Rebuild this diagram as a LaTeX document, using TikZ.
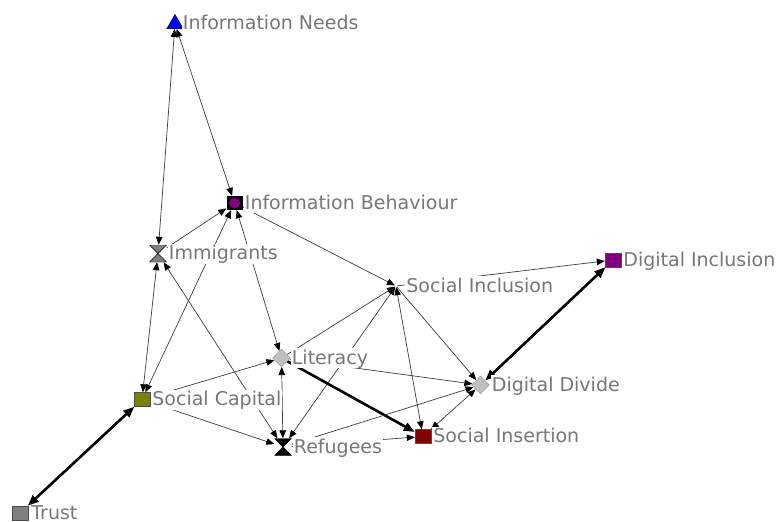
\documentclass[tikz,border=0pt]{standalone}
\usepackage{fontspec}
\usepackage{tikz}
\usetikzlibrary{arrows.meta,shapes.geometric,positioning,backgrounds}
\newfontfamily\labelfont{DejaVu Sans}
\definecolor{netpurple}{RGB}{128,0,128}
\definecolor{netolive}{RGB}{128,128,0}
\definecolor{netred}{RGB}{128,0,0}
\definecolor{netgray}{RGB}{128,128,128}
\definecolor{netsilver}{RGB}{192,192,192}
\definecolor{netblue}{RGB}{0,0,255}
\definecolor{labelgray}{RGB}{118,118,124}
\definecolor{linegray}{RGB}{60,60,60}

\begin{document}
\begin{tikzpicture}[
    x=1pt, y=-1pt,
    lbl/.style={text=labelgray, fill=white, inner sep=1pt, text height=15pt, text depth=3pt, font=\labelfont\fontsize{19}{21}\selectfont},
    sqnode/.style={rectangle, draw=black!70, fill=#1, minimum width=16pt, minimum height=14pt, inner sep=0pt},
    trinode/.style={regular polygon, regular polygon sides=3, draw=black, fill=netblue, minimum size=19pt, inner sep=0pt},
    dianode/.style={diamond, draw=black!45, fill=netsilver, minimum size=18pt, inner sep=0pt},
    hournode/.style={rectangle, minimum width=17pt, minimum height=17pt, inner sep=0pt, path picture={
        \filldraw[fill=#1, draw=black] (path picture bounding box.north west) -- (path picture bounding box.north east)
          -- (path picture bounding box.south west) -- (path picture bounding box.south east) -- cycle;}},
    ibnode/.style={rectangle, fill=black, minimum width=16pt, minimum height=14pt, inner sep=0pt, path picture={
        \fill[netpurple] (path picture bounding box.center) circle (5.5pt);}},
    dotnode/.style={circle, minimum size=2pt, inner sep=0pt},
    arrow/.style={-{Triangle[length=8pt,width=6.5pt,color=black]}, line width=0.7pt, draw=linegray},
    twoway/.style={arrow, {Triangle[length=8pt,width=6.5pt,color=black]}-{Triangle[length=8pt,width=6.5pt,color=black]}},
    heavyarrow/.style={-{Triangle[length=11pt,width=8.5pt]}, line width=2.6pt, draw=black},
    heavytwoway/.style={heavyarrow, {Triangle[length=11pt,width=8.5pt]}-{Triangle[length=11pt,width=8.5pt]}}
]
\useasboundingbox (0,0) rectangle (780,522);

% Nodes
\node[trinode] (needs) at (175,24) {};
\node[ibnode] (behav) at (234.5,203) {};
\node[hournode=netgray] (immig) at (158,253.5) {};
\node[dotnode] (socincl) at (396,286) {};
\node[sqnode=netpurple] (diginc) at (613,260) {};
\node[dianode] (lit) at (281.5,358) {};
\node[sqnode=netolive] (soccap) at (142,399.5) {};
\node[dianode] (digdiv) at (480.5,385) {};
\node[sqnode=netred] (socins) at (423,436.5) {};
\node[hournode=black] (refug) at (283,447) {};
\node[sqnode=netgray] (trust) at (20,513) {};

% Labels
\node[lbl, right=1pt of needs] (needs-l) {Information Needs};
\node[lbl, right=1pt of behav] (behav-l) {Information Behaviour};
\node[lbl, right=1pt of immig] (immig-l) {Immigrants};
\node[lbl, right=8pt of socincl] (socincl-l) {Social Inclusion};
\node[lbl, right=1pt of diginc] (diginc-l) {Digital Inclusion};
\node[lbl, right=0pt of lit] (lit-l) {Literacy};
\node[lbl, right=1pt of soccap] (soccap-l) {Social Capital};
\node[lbl, right=1pt of digdiv] (digdiv-l) {Digital Divide};
\node[lbl, right=1pt of socins] (socins-l) {Social Insertion};
\node[lbl, right=1pt of refug] (refug-l) {Refugees};
\node[lbl, text height=13pt, text depth=1pt, right=2pt of trust] (trust-l) {Trust};

% Connections
\begin{scope}[on background layer]
\draw[twoway] (needs) -- (immig);
\draw[twoway] (needs) -- (behav);
\draw[arrow] (immig) -- (behav);
\draw[twoway] (soccap) -- (behav);
\draw[twoway] (lit) -- (behav);
\draw[twoway] (immig) -- (soccap);
\draw[twoway] (immig) -- (refug);
\draw[arrow] (behav) -- (socincl);
\draw[arrow] (socincl) -- (diginc);
\draw[heavytwoway] (diginc) -- (digdiv);
\draw[arrow] (socincl) -- (digdiv);
\draw[twoway] (socincl) -- (socins);
\draw[arrow] (lit) -- (socincl);
\draw[twoway] (refug) -- (socincl);
\draw[heavyarrow] (lit) -- (socins);
\draw[arrow] (lit) -- (digdiv);
\draw[twoway] (lit) -- (refug);
\draw[arrow] (soccap) -- (lit);
\draw[arrow] (soccap) -- (refug);
\draw[heavytwoway] (soccap) -- (trust);
\draw[arrow] (refug) -- (socins);
\draw[arrow] (refug) -- (digdiv);
\draw[twoway] (socins) -- (digdiv);
\end{scope}

\end{tikzpicture}
\end{document}
